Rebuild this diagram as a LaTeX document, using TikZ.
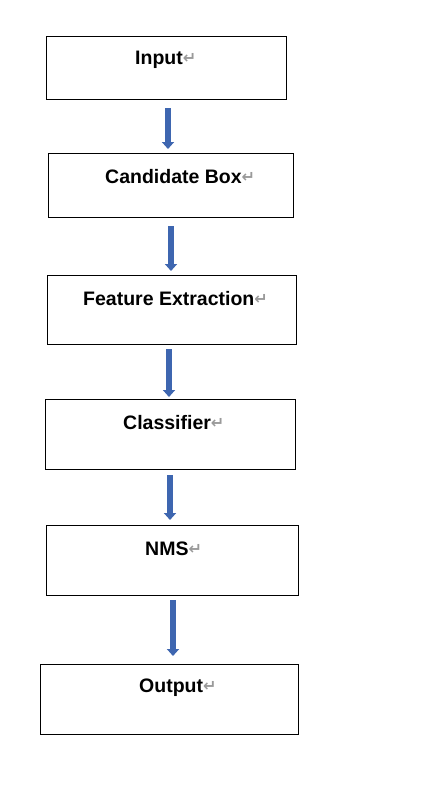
\documentclass[tikz,border=0pt]{standalone}
\usepackage{fontspec}
\setmainfont{Liberation Sans}
\newfontfamily\symfont{DejaVu Sans}
\usetikzlibrary{arrows.meta}
\definecolor{arrowblue}{HTML}{3E66B0}
\definecolor{markgray}{HTML}{9A9A9A}
\tikzset{
  box/.style={draw=black, line width=0.8pt, anchor=north west, inner sep=0pt},
  lbl/.style={anchor=west, inner sep=0pt, font=\bfseries\fontsize{19.5}{19.5}\selectfont},
  blockarrow/.style={draw=arrowblue, line width=5.5pt, -{Triangle[width=12pt,length=7pt]}},
}
\newcommand{\pmark}{{\color{markgray}\symfont\fontsize{16}{16}\selectfont\raisebox{1.5pt}{↵}}}
\begin{document}
\begin{tikzpicture}[x=1pt,y=-1pt]
\useasboundingbox (0,0) rectangle (433,795);
% boxes
\node[box, minimum width=240pt, minimum height=63pt] (b1) at (46,36) {};
\node[box, minimum width=245pt, minimum height=64pt] (b2) at (48,153) {};
\node[box, minimum width=249pt, minimum height=69pt] (b3) at (47,275) {};
\node[box, minimum width=250pt, minimum height=70pt] (b4) at (45,399) {};
\node[box, minimum width=252pt, minimum height=70pt] (b5) at (46,525) {};
\node[box, minimum width=258pt, minimum height=70pt] (b6) at (40,664) {};
% labels
\node[lbl] (t1) at (135,60) {Input\pmark};
\node[lbl] (t2) at (105,177) {Candidate Box\pmark};
\node[lbl] (t3) at (83,299) {Feature Extraction\pmark};
\node[lbl] (t4) at (123,423) {Classifier\pmark};
\node[lbl] (t5) at (145,549) {NMS\pmark};
\node[lbl] (t6) at (139,688) {Output\pmark};
% arrow ends
\coordinate (s1) at (168,108); \coordinate (e1) at (168,149);
\coordinate (s2) at (171,226); \coordinate (e2) at (171,271);
\coordinate (s3) at (169,349); \coordinate (e3) at (169,397);
\coordinate (s4) at (170,475); \coordinate (e4) at (170,520);
\coordinate (s5) at (173,600); \coordinate (e5) at (173,656);
\draw[blockarrow] (s1) -- (e1);
\draw[blockarrow] (s2) -- (e2);
\draw[blockarrow] (s3) -- (e3);
\draw[blockarrow] (s4) -- (e4);
\draw[blockarrow] (s5) -- (e5);
\end{tikzpicture}
\end{document}
